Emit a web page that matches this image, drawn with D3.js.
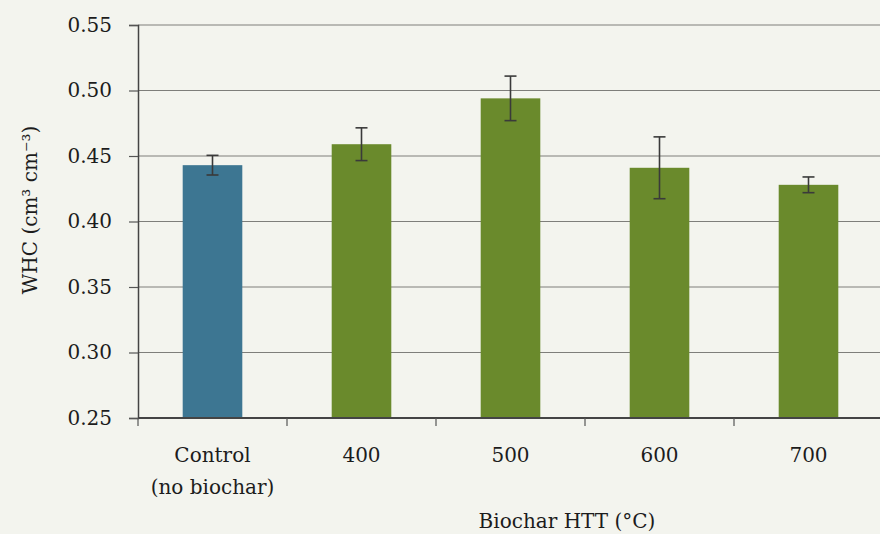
<!DOCTYPE html>
<html><head><meta charset="utf-8">
<script src="https://cdn.jsdelivr.net/npm/d3@7"></script>
<style>
html,body{margin:0;padding:0;background:#f3f4ee;}
svg{display:block;}
text{font-family:"DejaVu Serif","Liberation Serif",serif;fill:#1c1c1c;}
</style></head>
<body>
<svg id="chart" width="880" height="534"></svg>
<script>
const categories = ["Control\n(no biochar)", "400", "500", "600", "700"];
const values = [0.443, 0.459, 0.494, 0.441, 0.428];
const errors = [0.0075, 0.0125, 0.017, 0.0236, 0.006];
const barColors = ["#3d7692", "#6a8a2c", "#6a8a2c", "#6a8a2c", "#6a8a2c"];
const yTicks = [0.25, 0.30, 0.35, 0.40, 0.45, 0.50, 0.55];
const yLabel = "WHC (cm³ cm⁻³)";
const xLabel = "Biochar HTT (°C)";

(function () {
const svg = d3.select("#chart");
const mLeft = 138, mRight = 883, mTop = 25, mBottom = 418;
const fam = "DejaVu Serif, Liberation Serif, serif";

const x = d3.scaleBand().domain(categories).range([mLeft, mRight]).paddingInner(0.6).paddingOuter(0.3);
const y = d3.scaleLinear().domain([0.25, 0.55]).range([mBottom, mTop]);

// gridlines
svg.append("g").selectAll("line").data(yTicks.slice(1)).join("line")
  .attr("x1", mLeft).attr("x2", 880)
  .attr("y1", d => y(d)).attr("y2", d => y(d))
  .attr("stroke", "#7e7e7a").attr("stroke-width", 1);

// bars
svg.append("g").selectAll("rect").data(values).join("rect")
  .attr("x", (d, i) => x(categories[i]))
  .attr("width", x.bandwidth())
  .attr("y", d => y(d))
  .attr("height", d => mBottom - y(d))
  .attr("fill", (d, i) => barColors[i]);

// error bars
const eg = svg.append("g").attr("stroke", "#3a3a3a").attr("stroke-width", 1.6);
values.forEach((v, i) => {
  const cx = x(categories[i]) + x.bandwidth() / 2;
  eg.append("line").attr("x1", cx).attr("x2", cx).attr("y1", y(v + errors[i])).attr("y2", y(v - errors[i]));
  [v + errors[i], v - errors[i]].forEach(e => {
    eg.append("line").attr("x1", cx - 6).attr("x2", cx + 6).attr("y1", y(e)).attr("y2", y(e));
  });
});

// y axis
const yAxis = d3.axisLeft(y).tickValues(yTicks).tickFormat(d3.format(".2f")).tickSize(9).tickPadding(17);
const ya = svg.append("g").attr("transform", `translate(${mLeft},0)`).call(yAxis);
ya.select(".domain").attr("stroke", "#444").attr("stroke-width", 1.5);
ya.selectAll(".tick line").attr("stroke", "#555").attr("stroke-width", 1.2);
ya.selectAll(".tick text").attr("font-size", 20).attr("font-family", fam).attr("fill", "#1c1c1c");

// x axis line
svg.append("line").attr("x1", mLeft).attr("x2", 880).attr("y1", mBottom).attr("y2", mBottom)
  .attr("stroke", "#444").attr("stroke-width", 1.8);
// x ticks at band boundaries
const boundaries = categories.map((c, i) => x(c) - x.step() * x.paddingInner() / 2 - x.step() * (i === 0 ? (x.paddingOuter() - x.paddingInner() / 2) : 0));
svg.append("g").selectAll("line").data(boundaries).join("line")
  .attr("x1", d => d).attr("x2", d => d).attr("y1", mBottom).attr("y2", mBottom + 8)
  .attr("stroke", "#555").attr("stroke-width", 1.2);

// category labels
categories.forEach(c => {
  const cx = x(c) + x.bandwidth() / 2;
  const lines = c.split("\n");
  const t = svg.append("text").attr("x", cx).attr("y", 462).attr("text-anchor", "middle").attr("font-size", 20);
  lines.forEach((l, j) => t.append("tspan").attr("x", cx).attr("dy", j === 0 ? 0 : 32).text(l));
});

// axis titles
svg.append("text").attr("x", 567).attr("y", 528).attr("text-anchor", "middle").attr("font-size", 20).text(xLabel);
svg.append("text").attr("transform", "translate(37,210) rotate(-90)").attr("text-anchor", "middle").attr("font-size", 20).text(yLabel);
})();
</script>
</body></html>
